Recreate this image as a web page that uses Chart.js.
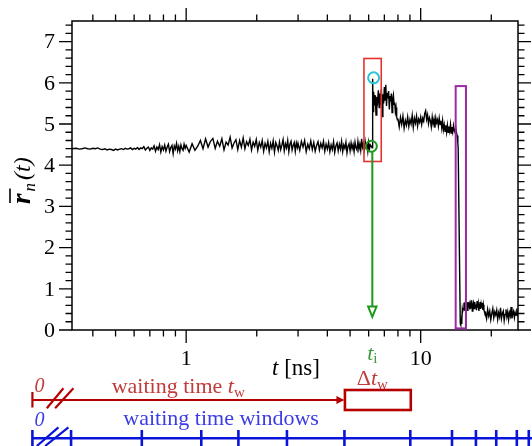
<!DOCTYPE html>
<html>
<head>
<meta charset="utf-8">
<script src="https://cdn.jsdelivr.net/npm/chart.js@4"></script>
<style>
html, body { margin: 0; padding: 0; background: #fff; }
#wrap { width: 532px; height: 446px; }
</style>
</head>
<body>
<div id="wrap"><canvas id="chart" width="532" height="446"></canvas></div>
<script>
// trace, piece by piece (t in ns)
const timeEarly = [0.326,0.34,0.35,0.36,0.37,0.38,0.39,0.40,0.41,0.42,
  0.43,0.44,0.45,0.46,0.47,0.48,0.49,0.50,0.51,0.52,
  0.53,0.54,0.55,0.56,0.57,0.58,0.59,0.60,0.61,0.62,
  0.63,0.64,0.65,0.66,0.67,0.68,0.69,0.70,0.71,0.72,
  0.73,0.74,0.75,0.76,0.77,0.78,0.79,0.80,0.81,0.82,
  0.83,0.84,0.85,0.86,0.87,0.88,0.89,0.90,0.91,0.92,
  0.93,0.94,0.95,0.96,0.97,0.98,0.99];
const radiusEarly = [4.40,4.41,4.39,4.40,4.42,4.40,4.39,4.41,4.40,4.42,
  4.39,4.38,4.40,4.37,4.39,4.38,4.36,4.39,4.37,4.39,
  4.40,4.38,4.41,4.39,4.40,4.42,4.38,4.41,4.39,4.43,
  4.38,4.42,4.40,4.45,4.37,4.41,4.44,4.36,4.42,4.39,
  4.47,4.34,4.44,4.38,4.50,4.32,4.45,4.37,4.49,4.34,
  4.44,4.51,4.33,4.43,4.48,4.28,4.47,4.39,4.53,4.35,
  4.46,4.33,4.49,4.40,4.36,4.51,4.41];

const timeMid = [1.00,1.03,1.06,1.09,1.12,1.15,1.18,1.21,1.24,1.27,
  1.30,1.33,1.36,1.39,1.42,1.45,1.48,1.51,1.54,1.57,
  1.60,1.63,1.66,1.69,1.72,1.75,1.78,1.81,1.84,1.87,
  1.90,1.93,1.96,1.99,2.02,2.05,2.08,2.11,2.14,2.17,
  2.20,2.23,2.26,2.29,2.32,2.35,2.38,2.41,2.44,2.47,
  2.50,2.53,2.56,2.59,2.62,2.65,2.68,2.71,2.74,2.77,
  2.80,2.83,2.86,2.89,2.92,2.95,2.98];
const radiusMid = [4.48,4.32,4.52,4.36,4.46,4.60,4.40,4.64,4.44,4.58,
  4.65,4.41,4.58,4.46,4.64,4.37,4.56,4.49,4.68,4.42,
  4.54,4.62,4.38,4.60,4.44,4.66,4.40,4.57,4.48,4.63,
  4.37,4.56,4.46,4.62,4.36,4.55,4.44,4.60,4.34,4.53,
  4.42,4.58,4.33,4.53,4.41,4.59,4.32,4.55,4.47,4.36,
  4.56,4.38,4.49,4.62,4.35,4.52,4.42,4.60,4.33,4.51,
  4.58,4.37,4.48,4.55,4.34,4.54,4.43];

const timeLate = [3.00,3.05,3.10,3.15,3.20,3.25,3.30,3.35,3.40,3.45,
  3.50,3.55,3.60,3.65,3.70,3.75,3.80,3.85,3.90,3.95,
  4.00,4.05,4.10,4.15,4.20,4.25,4.30,4.35,4.40,4.45,
  4.50,4.55,4.60,4.65,4.70,4.75,4.80,4.85,4.90,4.95,
  5.00,5.05,5.10,5.15,5.20,5.25,5.30,5.35,5.40,5.45,
  5.50,5.55,5.60,5.65,5.70,5.75,5.80,5.85,5.90,5.95,
  6.00,6.05,6.10,6.15];
const radiusLate = [4.53,4.36,4.58,4.44,4.60,4.33,4.51,4.40,4.59,4.38,
  4.55,4.34,4.48,4.57,4.37,4.53,4.42,4.58,4.34,4.51,
  4.39,4.55,4.33,4.49,4.38,4.57,4.31,4.47,4.54,4.35,
  4.51,4.39,4.58,4.33,4.49,4.41,4.56,4.30,4.46,4.52,
  4.35,4.54,4.40,4.50,4.33,4.56,4.42,4.37,4.58,4.39,
  4.51,4.36,4.64,4.44,4.53,4.38,4.57,4.41,4.52,4.34,
  4.55,4.40,4.49,4.46];

const timeJump = [6.18,6.21,6.24,6.27,
  6.30,6.35,6.40,6.45,6.50,6.55,6.60,6.65,6.70,6.75,
  6.80,6.85,6.90,6.95,7.00,7.05,7.10,7.15,7.20,7.25,
  7.30,7.35,7.40,7.45,7.50,7.55,7.60,7.65,7.70,7.75,
  7.80,7.85,7.90,7.95];
const radiusJump = [4.46,4.42,6.10,5.30,
  5.78,5.45,5.70,5.22,5.66,5.55,5.82,5.40,5.74,5.60,
  5.85,5.18,5.72,5.50,5.90,5.58,5.95,5.44,5.76,5.62,
  5.80,5.35,5.68,5.55,5.74,5.28,5.60,5.70,5.48,5.52,
  5.30,5.40,5.18,5.10];

const timePlateau = [8.0,8.1,8.2,8.3,8.4,8.5,8.6,8.7,8.8,8.9,
  9.0,9.1,9.2,9.3,9.4,9.5,9.6,9.7,9.8,9.9,
  10.0,10.1,10.2,10.3,10.4,10.5,10.6,10.7,10.8,10.9,
  11.0,11.1,11.2,11.3,11.4,11.5,11.6,11.7,11.8,11.9,
  12.0,12.1,12.2,12.3,12.4,12.5,12.6,12.7,12.8,12.9,
  13.0,13.1,13.2,13.3,13.4,13.5,13.6,13.7,13.8,13.9,
  14.0,14.1];
const radiusPlateau = [5.13,4.93,5.16,4.99,5.19,4.90,5.09,4.97,5.17,4.94,
  5.11,5.00,5.21,4.92,5.14,5.02,5.19,4.95,5.12,5.04,
  5.17,4.99,5.14,5.07,5.25,5.32,5.11,5.22,5.01,5.15,
  5.08,4.93,5.17,5.00,5.12,4.91,5.15,5.03,5.10,4.95,
  5.14,4.99,5.08,4.90,5.08,4.86,4.98,4.82,4.97,4.80,
  4.97,4.80,4.94,4.83,4.99,4.78,4.93,4.81,4.96,4.84,
  4.80,4.92];

const timeDrop = [14.2,14.3,14.4,14.45,14.75,14.8,14.85,14.9,14.95,15.0,15.05,15.1];
const radiusDrop = [4.80,4.72,4.55,4.42,0.15,0.12,0.28,0.16,0.35,0.22,0.50,0.45];

const timeLow = [15.2,15.3,15.4,15.5,15.6,15.7,15.8,15.9,16.0,16.1,
  16.2,16.3,16.4,16.5,16.6,16.7,16.8,16.9,17.0,17.1,
  17.2,17.3,17.4,17.5,17.6,17.7,17.8,17.9,18.0,18.1,
  18.2,18.3,18.4,18.5,18.6,18.7,18.8];
const radiusLow = [0.52,0.66,0.47,0.69,0.56,0.62,0.48,0.68,0.58,0.64,
  0.50,0.63,0.54,0.72,0.46,0.60,0.66,0.52,0.68,0.56,
  0.62,0.48,0.70,0.54,0.64,0.46,0.59,0.68,0.51,0.63,
  0.54,0.66,0.49,0.61,0.50,0.44,0.40];

const timeEnd = [18.9,19.1,19.3,19.5,19.7,19.9,20.1,20.3,20.5,20.7,
  20.9,21.1,21.3,21.5,21.7,21.9,22.1,22.3,22.5,22.7,
  22.9,23.1,23.3,23.5,23.7,23.9,24.1,24.3,24.5,24.7,
  24.9,25.1,25.3,25.5,25.7,25.9];
const radiusEnd = [0.42,0.28,0.50,0.34,0.46,0.25,0.40,0.52,0.30,0.44,
  0.36,0.48,0.26,0.42,0.32,0.54,0.28,0.40,0.46,0.23,
  0.38,0.50,0.32,0.44,0.25,0.42,0.34,0.56,0.28,0.40,
  0.46,0.30,0.42,0.36,0.52,0.33];

// markers in data units
const tInit = 6.22;
const redBoxT = [5.73, 6.79], redBoxR = [4.09, 6.59];
const purpleBoxT = [14.1, 15.6], purpleBoxR = [0.04, 5.92];
const cyanMark = [6.30, 6.12];
const greenMark = [6.16, 4.46];
const arrowR = [4.32, 0.57, 0.32];   // start, head base, tip
// waiting-time windows underneath, first edge stands for the broken "0"
const windowEdges = [0.221, 0.323, 0.647, 1.16, 1.67, 2.69, 4.73, 9.03, 13.6, 17.2, 21.0, 25.7, 28.9];
const waitEnd = 4.73, dtEnd = 9.03;

const pieces = [
  [timeEarly, radiusEarly], [timeMid, radiusMid], [timeLate, radiusLate], [timeJump, radiusJump],
  [timePlateau, radiusPlateau], [timeDrop, radiusDrop], [timeLow, radiusLow], [timeEnd, radiusEnd]
];
const trace = [];
pieces.forEach(([ts, rs]) => ts.forEach((t, i) => trace.push({ x: t, y: rs[i] })));

const SERIF = '"Liberation Serif", "DejaVu Serif", serif';
Chart.defaults.font.family = SERIF;

function runs(ctx, parts, x, y, align) {
  let w = 0;
  parts.forEach(p => { ctx.font = p[1]; w += ctx.measureText(p[0]).width; });
  let cx = align === 'center' ? x - w / 2 : align === 'right' ? x - w : x;
  parts.forEach(p => {
    ctx.font = p[1];
    ctx.fillText(p[0], cx, y + (p[2] || 0));
    cx += ctx.measureText(p[0]).width;
  });
}

function line(ctx, x1, y1, x2, y2) {
  ctx.beginPath(); ctx.moveTo(x1, y1); ctx.lineTo(x2, y2); ctx.stroke();
}

const decor = {
  id: 'decor',
  afterDatasetsDraw(chart) {
    const { ctx, chartArea: a, scales: { x, y } } = chart;
    ctx.save();

    // frame + outward ticks on all sides
    ctx.strokeStyle = '#000';
    ctx.lineWidth = 1.5;
    ctx.strokeRect(a.left, a.top, a.right - a.left, a.bottom - a.top);
    ctx.lineWidth = 1.3;
    ctx.beginPath();
    for (let i = 0; i * 0.2 <= 7.5; i++) {
      const py = y.getPixelForValue(i * 0.2), len = i % 5 === 0 ? 13 : 6.5;
      ctx.moveTo(a.left, py); ctx.lineTo(a.left - len, py);
      ctx.moveTo(a.right, py); ctx.lineTo(a.right + len, py);
    }
    for (const dec of [0.1, 1, 10]) {
      for (let k = 1; k <= 9; k++) {
        const v = k * dec;
        if (v < x.min || v > x.max) continue;
        const px = x.getPixelForValue(v), len = k === 1 ? 13 : 6.5;
        ctx.moveTo(px, a.bottom); ctx.lineTo(px, a.bottom + len);
        ctx.moveTo(px, a.top); ctx.lineTo(px, a.top - len);
      }
    }
    ctx.stroke();

    // tick labels, from the scales' own ticks
    ctx.fillStyle = '#000';
    ctx.font = '22px ' + SERIF;
    ctx.textBaseline = 'middle';
    ctx.textAlign = 'right';
    y.ticks.forEach(t => {
      if (Math.abs(t.value - Math.round(t.value)) < 1e-6) ctx.fillText(String(Math.round(t.value)), 55, y.getPixelForValue(t.value) + 1);
    });
    ctx.textAlign = 'center';
    ctx.textBaseline = 'alphabetic';
    x.ticks.forEach(t => {
      if (Math.abs(t.value - 1) < 1e-9 || Math.abs(t.value - 10) < 1e-9) ctx.fillText(String(Math.round(t.value)), x.getPixelForValue(t.value), 365);
    });
    ctx.textAlign = 'left';

    // boxes in the plot
    ctx.lineWidth = 1.6;
    ctx.strokeStyle = '#e8312f';
    let x1 = x.getPixelForValue(redBoxT[0]), x2 = x.getPixelForValue(redBoxT[1]);
    let y1 = y.getPixelForValue(redBoxR[1]), y2 = y.getPixelForValue(redBoxR[0]);
    ctx.strokeRect(x1, y1, x2 - x1, y2 - y1);
    ctx.lineWidth = 2;
    ctx.strokeStyle = '#9c2aa6';
    x1 = x.getPixelForValue(purpleBoxT[0]); x2 = x.getPixelForValue(purpleBoxT[1]);
    y1 = y.getPixelForValue(purpleBoxR[1]); y2 = y.getPixelForValue(purpleBoxR[0]);
    ctx.strokeRect(x1, y1, x2 - x1, y2 - y1);

    // green arrow from t_i down
    const ax = x.getPixelForValue(tInit);
    const ya = y.getPixelForValue(arrowR[0]), yb = y.getPixelForValue(arrowR[1]), yt = y.getPixelForValue(arrowR[2]);
    ctx.strokeStyle = '#1a9a1a';
    ctx.lineWidth = 2;
    line(ctx, ax, ya, ax, yb);
    ctx.beginPath();
    ctx.moveTo(ax - 4.2, yb); ctx.lineTo(ax + 4.2, yb); ctx.lineTo(ax, yt); ctx.closePath();
    ctx.fillStyle = '#fff'; ctx.fill(); ctx.stroke();

    // circles
    ctx.lineWidth = 2;
    ctx.strokeStyle = '#1a9a1a';
    ctx.beginPath();
    ctx.arc(x.getPixelForValue(greenMark[0]), y.getPixelForValue(greenMark[1]), 5.5, 0, Math.PI * 2);
    ctx.stroke();
    ctx.strokeStyle = '#2bc4d4';
    ctx.beginPath();
    ctx.arc(x.getPixelForValue(cyanMark[0]), y.getPixelForValue(cyanMark[1]), 5.5, 0, Math.PI * 2);
    ctx.stroke();

    // y title: r-bar_n (t)
    ctx.save();
    ctx.fillStyle = '#000';
    ctx.textBaseline = 'alphabetic';
    ctx.translate(30, 204);
    ctx.rotate(-Math.PI / 2);
    ctx.font = 'bold italic 27px ' + SERIF;
    const rw = ctx.measureText('r').width;
    ctx.fillText('r', 0, 0);
    ctx.lineWidth = 1.6; ctx.strokeStyle = '#000';
    line(ctx, 1, -20, rw + 5, -20);
    ctx.font = 'italic 17px ' + SERIF;
    ctx.fillText('n', rw + 2, 5);
    const nw = ctx.measureText('n').width;
    ctx.font = 'italic 24px ' + SERIF;
    ctx.fillText('(t)', rw + nw + 5, 0);
    ctx.restore();

    // x title and t_i labels
    ctx.textBaseline = 'alphabetic';
    ctx.fillStyle = '#000';
    runs(ctx, [['t', 'italic 23px ' + SERIF], [' [ns]', '23px ' + SERIF]], 296, 375, 'center');
    ctx.fillStyle = '#3a9a3a';
    runs(ctx, [['t', 'italic 22px ' + SERIF], ['i', '15px ' + SERIF, 3]], ax, 360, 'center');
    ctx.fillStyle = '#c23b3b';
    runs(ctx, [['\u0394', '22px ' + SERIF], ['t', 'italic 22px ' + SERIF], ['w', '15px ' + SERIF, 4]], ax, 384.5, 'center');

    // waiting-time line (red)
    const x0 = x.getPixelForValue(windowEdges[0]);
    const xw = x.getPixelForValue(waitEnd), xd = x.getPixelForValue(dtEnd);
    ctx.fillStyle = '#c23b3b';
    runs(ctx, [['0', 'italic 20px ' + SERIF]], x0 + 7, 392, 'center');
    runs(ctx, [['waiting time ', '22px ' + SERIF], ['t', 'italic 22px ' + SERIF], ['w', '15px ' + SERIF, 4]], 111.7, 393, 'left');
    ctx.strokeStyle = '#b40000';
    ctx.lineWidth = 2.2;
    line(ctx, x0, 400, xw - 6, 400);
    line(ctx, x0, 392, x0, 407.5);
    line(ctx, x0 + 14.4, 408.3, x0 + 31, 388.3);
    line(ctx, x0 + 22.7, 408.3, x0 + 41, 388.3);
    ctx.fillStyle = '#b40000';
    ctx.beginPath();
    ctx.moveTo(xw - 8, 396); ctx.lineTo(xw, 400); ctx.lineTo(xw - 8, 404); ctx.closePath();
    ctx.fill();
    ctx.lineWidth = 2.6;
    ctx.strokeRect(xw + 0.5, 390, xd - xw, 20);

    // waiting-time windows (blue)
    ctx.fillStyle = '#3c3ce6';
    runs(ctx, [['0', 'italic 20px ' + SERIF]], x0 + 7, 426, 'center');
    runs(ctx, [['waiting time windows', '22px ' + SERIF]], 123.3, 425, 'left');
    ctx.strokeStyle = '#0a14d8';
    ctx.lineWidth = 2.6;
    line(ctx, x0, 438.3, 532, 438.3);
    windowEdges.forEach(t => {
      const px = x.getPixelForValue(t);
      line(ctx, px, 430, px, 447);
    });
    ctx.lineWidth = 2.2;
    line(ctx, x0 + 4.4, 446, x0 + 26, 427.3);
    line(ctx, x0 + 12.7, 446, x0 + 36, 427.3);

    ctx.restore();
  }
};

new Chart(document.getElementById('chart'), {
  type: 'line',
  data: {
    datasets: [{
      data: trace,
      borderColor: '#000',
      borderWidth: 1.4,
      pointRadius: 0,
      tension: 0
    }]
  },
  options: {
    responsive: false,
    animation: false,
    events: [],
    layout: { padding: { left: 0, top: 21, right: 14, bottom: 0 } },
    plugins: { legend: { display: false }, tooltip: { enabled: false } },
    scales: {
      x: {
        type: 'logarithmic',
        bounds: 'data',
        min: 0.326,
        max: 26,
        grid: { display: false, drawTicks: false },
        border: { display: false },
        ticks: { display: false },
        afterFit: s => { s.height = 116; }
      },
      y: {
        min: 0,
        max: 7.5,
        grid: { display: false, drawTicks: false },
        border: { display: false },
        ticks: { display: false, stepSize: 1, includeBounds: false },
        afterFit: s => { s.width = 72; }
      }
    }
  },
  plugins: [decor]
});
</script>
</body>
</html>
